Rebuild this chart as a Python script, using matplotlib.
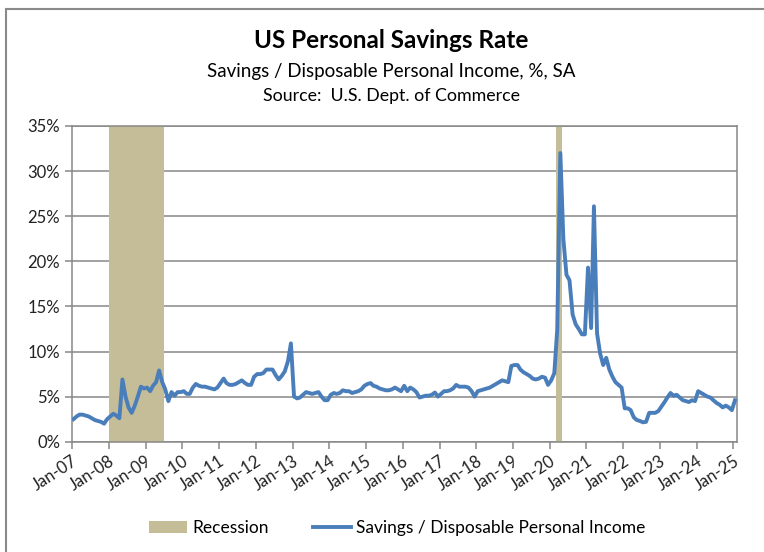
import matplotlib
matplotlib.use("Agg")
import matplotlib.pyplot as plt
from matplotlib.patches import Rectangle, Patch
from matplotlib.lines import Line2D
from matplotlib.ticker import FuncFormatter
import pandas as pd

plt.rcParams['font.family'] = ['Lato', 'DejaVu Sans']

# monthly savings rate, % (Jan 2007 .. Jan 2025)
rate_2007 = [2.5, 2.8, 3.0, 3.0, 2.9, 2.8, 2.6, 2.4, 2.3, 2.2, 2.0, 2.5]
rate_2008 = [2.8, 3.1, 2.9, 2.6, 6.9, 5.0, 3.8, 3.2, 4.0, 5.0, 6.1, 5.9]
rate_2009 = [6.0, 5.6, 6.2, 6.6, 7.9, 6.6, 5.8, 4.5, 5.5, 5.1, 5.5, 5.5]
rate_2010 = [5.6, 5.3, 5.3, 6.0, 6.4, 6.2, 6.1, 6.1, 6.0, 5.9, 5.8, 6.0]
rate_2011 = [6.5, 7.0, 6.5, 6.3, 6.3, 6.4, 6.6, 6.8, 6.5, 6.3, 6.3, 7.2]
rate_2012 = [7.5, 7.5, 7.6, 8.0, 8.0, 8.0, 7.4, 6.9, 7.3, 7.8, 8.9, 10.9]
rate_2013 = [5.0, 4.8, 4.9, 5.2, 5.5, 5.4, 5.3, 5.4, 5.5, 5.0, 4.6, 4.6]
rate_2014 = [5.2, 5.4, 5.3, 5.4, 5.7, 5.6, 5.6, 5.4, 5.5, 5.6, 5.8, 6.2]
rate_2015 = [6.4, 6.5, 6.2, 6.1, 5.9, 5.8, 5.7, 5.7, 5.8, 6.0, 5.8, 5.6]
rate_2016 = [6.2, 5.6, 6.0, 5.8, 5.5, 4.9, 5.0, 5.1, 5.1, 5.2, 5.45, 5.0]
rate_2017 = [5.3, 5.6, 5.6, 5.7, 5.9, 6.3, 6.1, 6.1, 6.1, 6.0, 5.6, 5.0]
rate_2018 = [5.6, 5.7, 5.8, 5.9, 6.0, 6.2, 6.4, 6.6, 6.8, 6.7, 6.6, 8.4]
rate_2019 = [8.5, 8.5, 8.0, 7.7, 7.5, 7.3, 7.0, 6.9, 7.0, 7.2, 7.1, 6.3]
rate_2020 = [6.8, 7.6, 12.4, 32.0, 22.5, 18.5, 17.9, 14.1, 13.0, 12.5, 11.9, 11.9]
rate_2021 = [19.3, 12.6, 26.1, 12.0, 9.8, 8.5, 9.3, 8.0, 7.2, 6.6, 6.3, 6.0]
rate_2022 = [3.7, 3.7, 3.5, 2.7, 2.4, 2.3, 2.15, 2.2, 3.2, 3.2, 3.2, 3.4]
rate_2023 = [3.9, 4.4, 4.9, 5.4, 5.1, 5.2, 4.9, 4.6, 4.5, 4.4, 4.6, 4.5]
rate_2024 = [5.6, 5.4, 5.2, 5.0, 4.9, 4.6, 4.3, 4.1, 3.8, 4.0, 3.8, 3.5]
rate_2025 = [4.6]

savings_rate = (rate_2007 + rate_2008 + rate_2009 + rate_2010 + rate_2011 + rate_2012
                + rate_2013 + rate_2014 + rate_2015 + rate_2016 + rate_2017 + rate_2018
                + rate_2019 + rate_2020 + rate_2021 + rate_2022 + rate_2023 + rate_2024
                + rate_2025)

recessions = [("2008-01-01", "2009-07-01"), ("2020-03-01", "2020-05-01")]

years = list(range(2007, 2026))
tick_labels = [f"Jan-{y % 100:02d}" for y in years]

dates = pd.date_range("2007-01-01", periods=len(savings_rate), freq="MS") + pd.Timedelta(days=15)

blue = "#4A7EBB"
tan = "#C4BD97"
grid_gray = "#878787"

fig = plt.figure(figsize=(7.64, 5.52), dpi=100)
ax = fig.add_axes([72 / 764, 1 - 441.7 / 552, (737 - 72) / 764, (441.7 - 126) / 552])

for start, end in recessions:
    ax.axvspan(pd.Timestamp(start), pd.Timestamp(end), color=tan, lw=0, zorder=1)

ax.plot(dates, savings_rate, color=blue, lw=2.8, zorder=3, solid_joinstyle="round")

ax.set_ylim(0, 35)
ax.set_yticks(range(0, 36, 5))
ax.yaxis.set_major_formatter(FuncFormatter(lambda v, p: f"{int(v)}%"))
ax.set_xlim(pd.Timestamp("2007-01-01"), pd.Timestamp("2025-02-05"))
ax.set_xticks([pd.Timestamp(f"{y}-01-01") for y in years])
ax.set_xticklabels(tick_labels, rotation=33, ha="right", rotation_mode="anchor")

ax.grid(axis="y", color=grid_gray, lw=1.1, zorder=0)
ax.set_axisbelow(True)
for s in ax.spines.values():
    s.set_color(grid_gray)
    s.set_linewidth(1.1)
ax.tick_params(axis="both", direction="out", length=5, color=grid_gray, width=1.1,
               labelsize=12, labelcolor="#222222")
ax.tick_params(axis="x", labelsize=12, pad=3)

fig.text(0.512, 1 - 41 / 552, "US Personal Savings Rate", ha="center", va="center",
         fontsize=17.5, fontweight="bold", color="black")
fig.text(0.512, 1 - 71 / 552, "Savings / Disposable Personal Income, %, SA", ha="center",
         va="center", fontsize=13.5, color="black")
fig.text(0.512, 1 - 96 / 552, "Source:  U.S. Dept. of Commerce", ha="center", va="center",
         fontsize=12.8, color="black")

handles = [Patch(facecolor=tan, edgecolor="none"),
           Line2D([0], [0], color=blue, lw=2.8)]
fig.legend(handles, ["Recession", "Savings / Disposable Personal Income"],
           loc="center", bbox_to_anchor=(0.52, 1 - 528 / 552), ncol=2, frameon=False,
           fontsize=12.5, handlelength=2.2, columnspacing=2.5, handletextpad=0.3)

fig.patches.append(Rectangle((6 / 764, -0.1), 2.0, 1 - 9 / 552 + 0.1, transform=fig.transFigure,
                             fill=False, edgecolor="#8a8a8a", lw=1.5))

fig.savefig("out.png", dpi=100)
